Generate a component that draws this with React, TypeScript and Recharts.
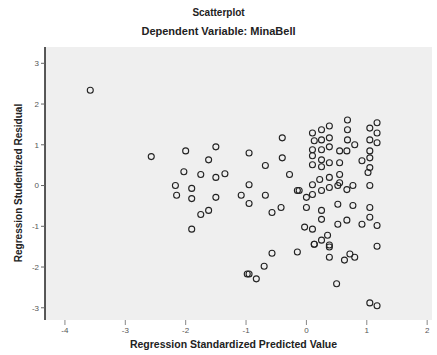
import React from 'react';
import { ScatterChart, Scatter, XAxis, YAxis, CartesianGrid } from 'recharts';

// point positions (standardized predicted value, studentized residual)
const predicted: number[] = [
  -3.58, -2.57, -2.0, -1.5, -1.62, -0.95, -0.68, -2.03, -1.75, -1.5, -1.35, -2.17, -1.9, -2.15, -1.9,
  -1.5, -1.08, -0.95, -0.95, -0.68, -1.75, -1.62, -1.9, -0.57, -0.42, -0.4, -0.4, -0.28, -0.98, -0.83,
  -0.95, -0.7, -0.57, -0.15,
  0.13, 0.38, 0.38, 0.63, 0.8, 1.17, 0.5, 1.05, 1.17,
  0.1, 0.13, 0.1, 0.1, 0.1, 0.1, 0.1, 0.0, 0.1, 0.13, -0.03, 0.0, -0.15,
  0.25, 0.25, 0.25, 0.25, 0.25, 0.22, 0.25, 0.25, 0.25, 0.25,
  0.38, 0.38, 0.38, 0.38, 0.38, 0.38, 0.38, 0.35,
  0.55, 0.55, 0.55, 0.52, 0.52, 0.52, 0.55,
  0.68, 0.68, 0.68, 0.67, 0.67, 0.67, 0.72,
  0.8, 0.77, 0.77, 0.92, 0.92,
  1.05, 1.05, 1.05, 1.05, 1.05, 1.02, 1.05, 1.05, 1.05,
  1.17, 1.17, 1.17, 1.17, -0.12,
];
const residual: number[] = [
  2.34, 0.71, 0.85, 0.95, 0.63, 0.8, 0.49, 0.34, 0.27, 0.2, 0.29, 0.0, -0.07, -0.24, -0.32,
  -0.29, -0.24, 0.02, -0.44, -0.24, -0.71, -0.61, -1.07, -0.66, -0.54, 1.17, 0.68, 0.27, -2.17, -2.29,
  -2.17, -1.98, -1.66, -1.63,
  -1.44, -1.51, -1.76, -1.83, -1.76, -1.49, -2.41, -2.88, -2.95,
  1.29, 1.1, 0.88, 0.73, 0.51, 0.02, -0.22, -0.29, -1.07, -1.44, -1.02, -0.54, -0.12,
  1.37, 1.12, 0.88, 0.63, 0.46, 0.15, -0.12, -0.61, -0.83, -1.34,
  1.46, 1.17, 0.95, 0.56, 0.2, -0.05, -1.46, -1.22,
  0.85, 0.56, 0.27, 0.0, -0.46, -0.95, 0.07,
  1.61, 1.37, 1.12, 0.85, -0.1, -0.85, -1.68,
  1.0, 0.0, -0.49, 0.61, -0.95,
  1.41, 1.12, 0.85, 0.68, 0.44, 0.32, 0.0, -0.54, -0.78,
  1.54, 1.29, 1.05, -0.98, -0.12,
];

const xTicks = [-4, -3, -2, -1, 0, 1, 2];
const yTicks = [3, 2, 1, 0, -1, -2, -3];

const data = predicted.map((x, i) => ({ x, y: residual[i] }));

const font = '"Liberation Sans", Arial, sans-serif';

const OpenCircle = (props: any) => (
  <circle cx={props.cx} cy={props.cy} r={3} fill="none" stroke="#222" strokeWidth={1.1} />
);

export default function App() {
  return (
    <div style={{ position: 'absolute', left: 0, top: 0, width: 437, height: 355, background: '#fff', fontFamily: font }}>
      <div style={{ position: 'absolute', top: 7, width: 437, textAlign: 'center', fontSize: 10, fontWeight: 'bold', color: '#222' }}>
        Scatterplot
      </div>
      <div style={{ position: 'absolute', top: 25, width: 437, textAlign: 'center', fontSize: 11, fontWeight: 'bold', color: '#222' }}>
        Dependent Variable: MinaBell
      </div>
      <ScatterChart width={437} height={355} margin={{ top: 47, right: 5, bottom: 15, left: 0 }}>
        <CartesianGrid fill="#efefef" stroke="none" horizontal={false} vertical={false} />
        <XAxis
          type="number"
          dataKey="x"
          domain={[-4.33, 2.08]}
          ticks={xTicks}
          axisLine={false}
          tickLine={{ stroke: '#888' }}
          tickSize={5}
          height={20}
          tick={{ fontSize: 8, fill: '#555', fontFamily: font }}
        />
        <YAxis
          type="number"
          dataKey="y"
          domain={[-3.3, 3.4]}
          ticks={yTicks}
          width={45}
          axisLine={{ stroke: '#222', strokeWidth: 1.5 }}
          tickLine={{ stroke: '#666' }}
          tickSize={4}
          tick={{ fontSize: 8, fill: '#555', fontFamily: font }}
        />
        <Scatter data={data} shape={OpenCircle} isAnimationActive={false} />
      </ScatterChart>
      <div
        style={{
          position: 'absolute', left: 18, top: 183, width: 0, height: 0,
        }}
      >
        <div
          style={{
            position: 'absolute', left: 0, top: 0, transform: 'translate(-50%, -50%) rotate(-90deg)',
            whiteSpace: 'nowrap', fontSize: 10, fontWeight: 'bold', color: '#222',
          }}
        >
          Regression Studentized Residual
        </div>
      </div>
      <div style={{ position: 'absolute', top: 338, left: 15, width: 437, textAlign: 'center', fontSize: 10.5, fontWeight: 'bold', color: '#222' }}>
        Regression Standardized Predicted Value
      </div>
    </div>
  );
}
